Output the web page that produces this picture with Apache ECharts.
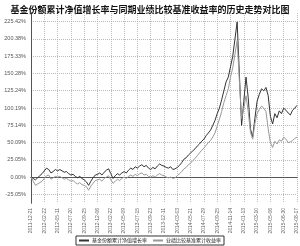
<!DOCTYPE html>
<html><head><meta charset="utf-8">
<script src="https://cdn.jsdelivr.net/npm/echarts@6/dist/echarts.min.js"></script>
<style>html,body{margin:0;padding:0;background:#fff}#c{width:300px;height:246px}</style>
</head><body><div id="c"></div>
<script>
const titleText = '基金份额累计净值增长率与同期业绩比较基准收益率的历史走势对比图';
const seriesNames = ['基金份额累计净值增长率', '业绩比较基准累计收益率'];
const dateLabels = ['2011-12-21','2012-02-22','2012-05-11','2012-07-20','2012-09-25','2012-12-06',
  '2013-02-22','2013-05-09','2013-07-15','2013-09-23','2013-12-11','2014-03-03','2014-05-21',
  '2014-07-29','2014-09-25','2014-11-14','2015-01-13','2015-03-10','2015-05-06','2015-06-30','2015-08-17'];
const yTicks = [-25.05, 0.00, 25.05, 50.09, 75.14, 100.19, 125.24, 150.28, 175.33, 200.38, 225.42];
const fundValues = [0,-2,-4,-1,2,5,9,13,11,6,8,11,9,11,9,7,8,5,3,4,1,-1,1,-2,-4,-7,-12,-6,-1,3,
  4,6,3,7,10,12,5,-2,2,5,3,6,8,6,10,13,11,15,13,16,18,15,17,13,11,14,12,16,19,17,
  16,14,13,15,11,12,14,17,21,26,28,32,35,38,41,45,48,52,55,60,64,68,75,82,92,100,112,125,138,145,
  160,175,200,225,150,75,110,145,115,70,58,85,110,120,128,125,130,118,88,77,92,86,96,92,100,97,93,90,97,100,104];
const benchValues = [0,-6,-12,-10,-8,-6,-2,2,3,-3,-1,1,0,1,-1,-3,-2,-4,-6,-5,-8,-10,-8,-11,-12,-14,-19,-13,-9,-5,
  -4,-3,-6,-2,0,2,-4,-9,-6,-3,-5,-2,0,-2,1,3,1,4,2,5,6,3,4,1,0,2,0,3,5,3,
  2,0,-1,0,-2,-1,2,5,8,12,14,18,20,24,27,31,35,39,42,46,50,53,58,64,74,84,95,108,118,128,
  145,158,178,198,140,85,100,118,95,65,55,78,92,98,103,100,95,70,50,43,52,48,54,52,58,55,50,51,53,56,58];
const pointsPerTick = 6;

const toXY = arr => arr.map((v, i) => [i / pointsPerTick, v]);
const chart = echarts.init(document.getElementById('c'), null, {renderer: 'canvas'});
const yMin = yTicks[0] - (yTicks[1] - yTicks[0]) / 2;
const yMax = yTicks[yTicks.length - 1] + (yTicks[1] - yTicks[0]) / 2;
const xMax = dateLabels.length - 1;
chart.setOption({
  animation: false,
  backgroundColor: '#fff',
  title: {text: titleText, left: 'center', top: 0,
    textStyle: {fontSize: 9, fontWeight: 'bold', color: '#111', fontFamily: 'Noto Sans CJK SC'}},
  grid: {left: 31, right: 3, top: 13, bottom: 43},
  legend: {
    bottom: 1, left: 'center',
    data: seriesNames,
    itemWidth: 10, itemHeight: 2, itemGap: 6,
    borderColor: '#333', borderWidth: 1, padding: [2, 3],
    icon: 'rect',
    textStyle: {fontSize: 5, color: '#222', fontFamily: 'Noto Sans CJK SC', padding: [0,0,0,-2]}
  },
  xAxis: [{
    type: 'value', min: 0, max: xMax, interval: 1,
    axisLine: {lineStyle: {color: '#333', width: 1}},
    axisTick: {show: false},
    splitLine: {show: true, lineStyle: {color: '#aaa', type: [1, 1], width: 0.8}},
    axisLabel: {rotate: 90, fontSize: 5, color: '#666', margin: 5,
      formatter: v => dateLabels[Math.round(v)] || ''}
  }, {
    type: 'value', min: 0, max: xMax, position: 'bottom', offset: 2,
    axisLine: {show: true, lineStyle: {color: '#555', width: 1}},
    axisTick: {show: false}, axisLabel: {show: false}, splitLine: {show: false}
  }],
  yAxis: [{
    type: 'value', min: yMin, max: yMax,
    axisLine: {show: true, lineStyle: {color: '#333', width: 1}},
    axisTick: {show: false, customValues: yTicks},
    splitLine: {show: true, lineStyle: {color: '#aaa', type: [1, 1], width: 0.8}},
    axisLabel: {customValues: yTicks, fontSize: 5.5, color: '#555', margin: 5,
      formatter: v => v.toFixed(2) + '%'}
  }, {
    type: 'value', min: yMin, max: yMax, position: 'left', offset: 2,
    axisLine: {show: true, lineStyle: {color: '#555', width: 1}},
    axisTick: {show: false}, axisLabel: {show: false}, splitLine: {show: false}
  }],
  series: [
    {name: seriesNames[0], type: 'line', data: toXY(fundValues), symbol: 'none',
      lineStyle: {color: '#333', width: 1}, itemStyle: {color: '#333'}},
    {name: seriesNames[1], type: 'line', data: toXY(benchValues), symbol: 'none',
      lineStyle: {color: '#999', width: 1}, itemStyle: {color: '#999'}}
  ]
});
</script></body></html>
